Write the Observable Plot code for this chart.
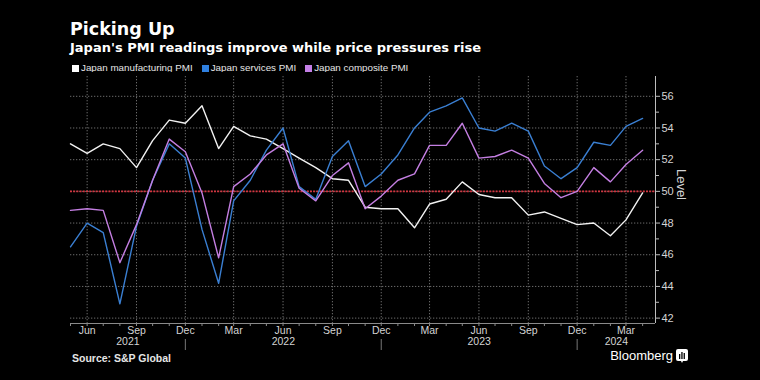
<!DOCTYPE html>
<html>
<head>
<meta charset="utf-8">
<script src="https://cdn.jsdelivr.net/npm/d3@7"></script>
<script src="https://cdn.jsdelivr.net/npm/@observablehq/plot@0.6"></script>
<style>
  html, body { margin: 0; padding: 0; background: #000; }
  body { width: 760px; height: 380px; overflow: hidden; position: relative; color: #fff; font-family: "Liberation Sans", Arial, sans-serif; }
  #title { position: absolute; left: 70px; top: 19px; font: bold 17.5px/20px "DejaVu Sans", sans-serif; color: #fff; white-space: nowrap; }
  #subtitle { position: absolute; left: 70px; top: 40px; font: bold 13px/16px "DejaVu Sans", sans-serif; color: #fff; white-space: nowrap; }
  #legend { position: absolute; left: 72px; top: 62px; font: 9.8px/12px "Liberation Sans", Arial, sans-serif; color: #e6e6e6; white-space: nowrap; display: flex; gap: 9px; }
  #legend span.item { display: inline-flex; align-items: center; }
  #legend span.sw { display: inline-block; width: 7px; height: 7px; margin-right: 2px; }
  #chart { position: absolute; left: 0; top: 72px; }
  #source { position: absolute; left: 72px; top: 352px; font: bold 10.5px/12px "Liberation Sans", Arial, sans-serif; color: #e6e6e6; white-space: nowrap; }
  #brand { position: absolute; right: 72px; top: 348px; font: 13px/16px "Liberation Sans", Arial, sans-serif; color: #fff; white-space: nowrap; display: flex; align-items: center; gap: 3px; }
</style>
</head>
<body>
<div id="title">Picking Up</div>
<div id="subtitle">Japan's PMI readings improve while price pressures rise</div>
<div id="legend"></div>
<div id="chart"></div>
<div id="source">Source: S&amp;P Global</div>
<div id="brand"><span>Bloomberg</span><svg width="12" height="14" viewBox="0 0 12 14"><rect x="0" y="0" width="12" height="12" rx="2" fill="#fff"/><path d="M5 12 L6 14 L7 12 Z" fill="#fff"/><rect x="3" y="5" width="1.3" height="5" fill="#000"/><rect x="5.3" y="3" width="1.3" height="7" fill="#000"/><rect x="7.6" y="4" width="1.3" height="6" fill="#000"/></svg></div>
<script>
// ---- Data ----
const months = [
  "2021-05","2021-06","2021-07","2021-08","2021-09","2021-10","2021-11","2021-12",
  "2022-01","2022-02","2022-03","2022-04","2022-05","2022-06","2022-07","2022-08","2022-09","2022-10","2022-11","2022-12",
  "2023-01","2023-02","2023-03","2023-04","2023-05","2023-06","2023-07","2023-08","2023-09","2023-10","2023-11","2023-12",
  "2024-01","2024-02","2024-03","2024-04"
];
const manufacturing = [
  53.0,52.4,53.0,52.7,51.5,53.2,54.5,54.3,
  55.4,52.7,54.1,53.5,53.3,52.7,52.1,51.5,50.8,50.7,49.0,48.9,
  48.9,47.7,49.2,49.5,50.6,49.8,49.6,49.6,48.5,48.7,48.3,47.9,
  48.0,47.2,48.2,49.9
];
const services = [
  46.5,48.0,47.4,42.9,47.8,50.7,53.0,52.1,
  47.6,44.2,49.4,50.7,52.6,54.0,50.3,49.5,52.2,53.2,50.3,51.1,
  52.3,54.0,55.0,55.4,55.9,54.0,53.8,54.3,53.8,51.6,50.8,51.5,
  53.1,52.9,54.1,54.6
];
const composite = [
  48.8,48.9,48.8,45.5,47.9,50.7,53.3,52.5,
  49.9,45.8,50.3,51.1,52.3,53.0,50.2,49.4,51.0,51.8,48.9,49.7,
  50.7,51.1,52.9,52.9,54.3,52.1,52.2,52.6,52.1,50.5,49.6,50.0,
  51.5,50.6,51.7,52.6
];
const seriesNames = ["Japan manufacturing PMI", "Japan services PMI", "Japan composite PMI"];
const seriesColors = ["#f2f2f2", "#3a7fd2", "#c47fe2"];
const legendColors = ["#ffffff", "#2f80e0", "#c47fe6"];
const yTicks = [42, 44, 46, 48, 50, 52, 54, 56];
const yMinorTicks = [43, 45, 47, 49, 51, 53, 55];
const quarterTicks = ["2021-06","2021-09","2021-12","2022-03","2022-06","2022-09","2022-12","2023-03","2023-06","2023-09","2023-12","2024-03"];
const yearSeparators = ["2021-12","2022-12","2023-12"];
const yearLabels = ["2021","2022","2023","2024"];
const referenceLevel = [50];
const xStartStr = "2021-05-01";
const xEndStr = "2024-04-25";
const yDomain = [41.66, 57.25];

// ---- Build ----
const parseM = d3.utcParse("%Y-%m");
const parseD = d3.utcParse("%Y-%m-%d");
const dates = months.map(parseM);
const xStart = parseD(xStartStr), xEnd = parseD(xEndStr);
const rows = [];
[manufacturing, services, composite].forEach((vals, k) =>
  vals.forEach((v, i) => rows.push({date: dates[i], value: v, series: seriesNames[k]}))
);
const quarterDates = quarterTicks.map(parseM);
const sepDates = yearSeparators.map(parseM);
const bounds = [xStart, ...sepDates, xEnd];
const yearCenters = yearLabels.map((_, i) => new Date((+bounds[i] + +bounds[i + 1]) / 2));

// legend
const legend = document.getElementById("legend");
seriesNames.forEach((n, i) => {
  const it = document.createElement("span");
  it.className = "item";
  it.innerHTML = `<span class="sw" style="background:${legendColors[i]}"></span>${n}`;
  legend.appendChild(it);
});

const frameH = 278 - 4 - 27;
const chart = Plot.plot({
  width: 760,
  height: 278,
  marginTop: 4,
  marginBottom: 27,
  marginLeft: 70,
  marginRight: 105,
  style: {background: "#000", color: "#d4d4d4", fontFamily: "Liberation Sans, Arial, sans-serif", fontSize: "10.5px"},
  x: {type: "utc", domain: [xStart, xEnd], label: null},
  y: {domain: yDomain, label: null},
  color: {domain: seriesNames, range: seriesColors},
  marks: [
    Plot.gridY(yTicks, {stroke: "#777", strokeOpacity: 0.9, strokeDasharray: "1.3,1.7"}),
    Plot.gridX(quarterDates, {stroke: "#777", strokeOpacity: 0.9, strokeDasharray: "1.3,1.7"}),
    Plot.ruleY(referenceLevel, {stroke: "#d2343f", strokeWidth: 1.8, strokeDasharray: "2,1.2"}),
    Plot.line(rows, {x: "date", y: "value", z: "series", stroke: "series", strokeWidth: 1.4}),
    Plot.ruleY([yDomain[0]], {stroke: "#8a8a8a"}),
    Plot.ruleX([xEnd], {stroke: "#bdbdbd"}),
    Plot.axisY(yTicks, {anchor: "right", tickSize: 4, tickPadding: 2, label: null, stroke: "#bdbdbd", fill: "#d4d4d4", fontSize: 11}),
    Plot.axisY(yMinorTicks, {anchor: "right", tickSize: 3, tickFormat: () => "", label: null, stroke: "#bdbdbd"}),
    Plot.axisX(dates, {tickSize: 3, tickFormat: () => "", label: null, stroke: "#8a8a8a"}),
    Plot.axisX(quarterDates, {tickSize: 0, tickPadding: 3, tickFormat: d3.utcFormat("%b"), label: null, fill: "#d4d4d4", fontSize: 10.5}),
    Plot.ruleX(sepDates, {insetTop: frameH - 11, dy: 27, stroke: "#777"}),
    Plot.text(yearCenters, {x: d => d, text: yearLabels, frameAnchor: "bottom", dy: 21.5, fill: "#d4d4d4", fontSize: 10.5}),
    Plot.text(["Level"], {text: d => d, frameAnchor: "right", rotate: 90, dx: 26, fill: "#d4d4d4", fontSize: 13})
  ]
});
document.getElementById("chart").appendChild(chart);
</script>
</body>
</html>
